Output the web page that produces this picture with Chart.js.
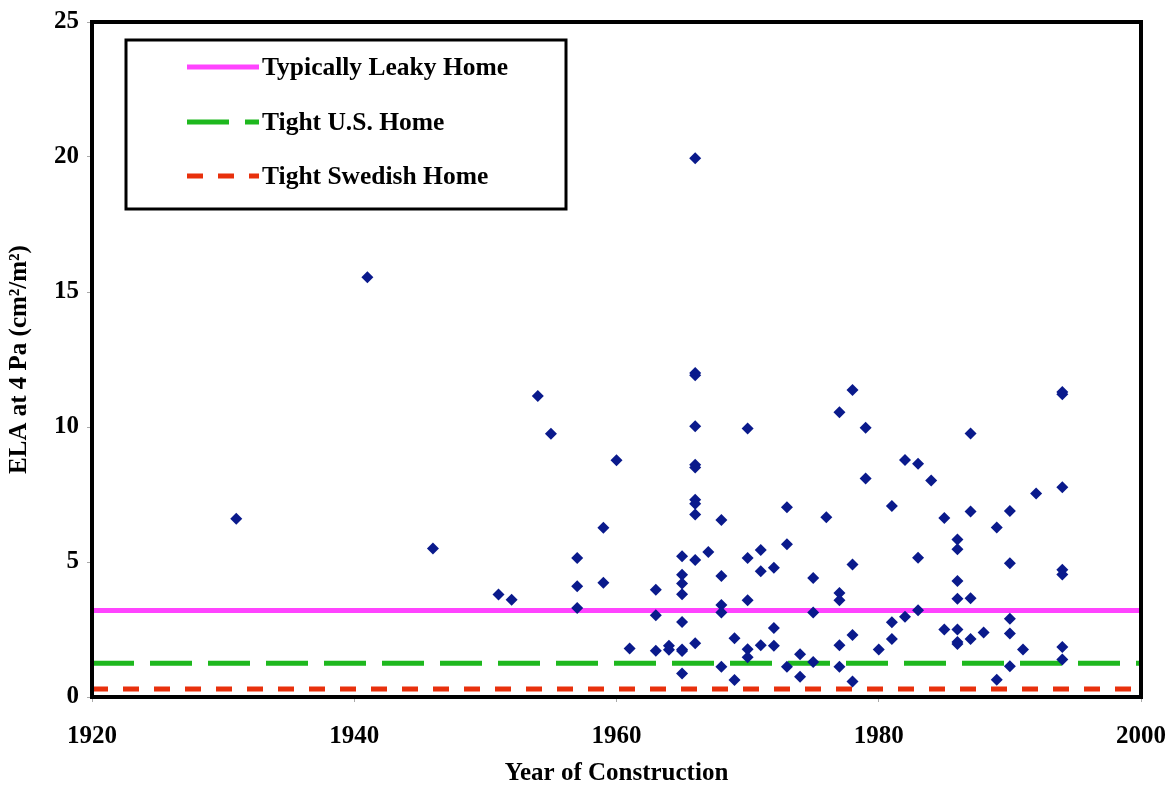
<!DOCTYPE html>
<html>
<head>
<meta charset="utf-8">
<script src="https://cdn.jsdelivr.net/npm/chart.js@4"></script>
<style>
    html, body { margin: 0; padding: 0; background: #fff; }
    #wrap { width: 1171px; height: 792px; }
</style>
</head>
<body>
<div id="wrap"><canvas id="ela-chart" width="1171" height="792"></canvas></div>
<script>
// measured homes: year of construction and ELA at 4 Pa (cm2/m2)
const years = [
    1931, 1941, 1946, 1951, 1952, 1954, 1955,
    1957, 1957, 1957, 1959, 1959, 1960, 1961,
    1963, 1963, 1963, 1964, 1964,
    1965, 1965, 1965, 1965, 1965, 1965, 1965, 1965,
    1966, 1966, 1966, 1966, 1966, 1966, 1966, 1966, 1966, 1966, 1966,
    1967, 1968, 1968, 1968, 1968, 1968, 1969, 1969,
    1970, 1970, 1970, 1970, 1970, 1971, 1971, 1971,
    1972, 1972, 1972, 1973, 1973, 1973, 1974, 1974,
    1975, 1975, 1975, 1976, 1977, 1977, 1977, 1977, 1977,
    1978, 1978, 1978, 1978, 1979, 1979, 1980,
    1981, 1981, 1981, 1982, 1982, 1983, 1983, 1983, 1984,
    1985, 1985, 1986, 1986, 1986, 1986, 1986, 1986, 1986,
    1987, 1987, 1987, 1987, 1988, 1989, 1989,
    1990, 1990, 1990, 1990, 1990, 1991, 1992,
    1994, 1994, 1994, 1994, 1994, 1994, 1994
];
const ela = [
    6.6, 15.55, 5.5, 3.8, 3.6, 11.15, 9.75,
    5.15, 4.1, 3.3, 6.27, 4.23, 8.77, 1.8,
    3.97, 3.03, 1.71, 1.9, 1.75,
    5.21, 4.53, 4.2, 3.81, 2.78, 1.76, 1.7, 0.87,
    19.95, 12.0, 11.92, 10.03, 8.6, 8.5, 7.31, 7.16, 6.76, 5.07, 1.99,
    5.37, 6.56, 4.48, 3.41, 3.13, 1.12, 2.18, 0.63,
    9.94, 5.15, 3.58, 1.77, 1.47, 5.44, 4.66, 1.92,
    4.79, 2.56, 1.9, 7.03, 5.66, 1.12, 1.58, 0.75,
    4.41, 3.13, 1.3, 6.66, 10.55, 3.85, 3.58, 1.92, 1.12,
    11.37, 4.91, 2.3, 0.57, 9.97, 8.09, 1.76,
    7.07, 2.77, 2.15, 8.78, 2.97, 8.64, 5.16, 3.21, 8.02,
    6.63, 2.5, 5.83, 5.47, 4.3, 3.64, 2.5, 2.04, 1.96,
    9.76, 6.87, 3.66, 2.15, 2.39, 6.28, 0.64,
    6.89, 4.95, 2.9, 2.35, 1.14, 1.76, 7.54,
    11.3, 11.21, 7.77, 4.71, 4.54, 1.85, 1.39
];

// reference levels
const refNames = ['Typically Leaky Home', 'Tight U.S. Home', 'Tight Swedish Home'];
const refValues = [3.2, 1.25, 0.3];
const refColors = ['#ff44ff', '#1eb81e', '#e8300c'];
const refDash = [[], [42, 16], [16, 15]];

const xRange = [1920, 2000];
const xTicks = [1920, 1940, 1960, 1980, 2000];
const yRange = [0, 25];
const yTicks = [0, 5, 10, 15, 20, 25];

const serif = "'Liberation Serif', 'Times New Roman', serif";

const points = years.map((yr, i) => ({ x: yr, y: ela[i] }));

const datasets = [{
    type: 'scatter',
    label: 'Homes',
    data: points,
    pointStyle: 'rectRot',
    pointRadius: 6,
    backgroundColor: '#0a1a8c',
    borderColor: '#0a1a8c',
    borderWidth: 0
}];

refNames.forEach((name, i) => {
    datasets.push({
        type: 'line',
        label: name,
        data: [{ x: xRange[0], y: refValues[i] }, { x: xRange[1], y: refValues[i] }],
        borderColor: refColors[i],
        borderWidth: 5,
        borderDash: refDash[i],
        pointRadius: 0,
        fill: false
    });
});

// black frame all round the plot area
const framePlugin = {
    id: 'frame',
    afterDatasetsDraw(chart) {
        const a = chart.chartArea;
        const ctx = chart.ctx;
        ctx.save();
        ctx.strokeStyle = '#000';
        ctx.lineWidth = 4;
        ctx.strokeRect(a.left, a.top, a.right - a.left, a.bottom - a.top);
        ctx.restore();
    }
};

// boxed legend inside the plot, with the dashed samples
const boxLegend = {
    id: 'boxLegend',
    afterDraw(chart) {
        const ctx = chart.ctx;
        const box = { x: 126, y: 40, w: 440, h: 169 };
        ctx.save();
        ctx.fillStyle = '#fff';
        ctx.fillRect(box.x, box.y, box.w, box.h);
        ctx.strokeStyle = '#000';
        ctx.lineWidth = 3;
        ctx.strokeRect(box.x, box.y, box.w, box.h);

        const rows = [67, 122, 176];
        chart.data.datasets.slice(1).forEach((ds, i) => {
            const y = rows[i];
            ctx.beginPath();
            ctx.setLineDash(ds.borderDash);
            ctx.strokeStyle = ds.borderColor;
            ctx.lineWidth = 5;
            ctx.moveTo(187, y);
            ctx.lineTo(259, y);
            ctx.stroke();
            ctx.setLineDash([]);
            ctx.fillStyle = '#000';
            ctx.font = 'bold 25.5px ' + serif;
            ctx.textBaseline = 'middle';
            ctx.fillText(ds.label, 262, y + 1);
        });
        ctx.restore();
    }
};

new Chart(document.getElementById('ela-chart'), {
    type: 'scatter',
    data: { datasets: datasets },
    options: {
        responsive: false,
        animation: false,
        layout: { padding: { top: 22, right: 30, left: 0, bottom: 0 } },
        plugins: {
            legend: { display: false },
            tooltip: { enabled: false }
        },
        scales: {
            x: {
                type: 'linear',
                min: xRange[0],
                max: xRange[1],
                afterBuildTicks: scale => { scale.ticks = xTicks.map(v => ({ value: v })); },
                afterFit: scale => {
                    scale.height = 95;
                    scale.paddingLeft = 0;
                    scale.paddingRight = 0;
                },
                ticks: {
                    color: '#000',
                    font: { family: serif, size: 25, weight: 'bold' },
                    padding: 20,
                    callback: v => String(v)
                },
                grid: { drawOnChartArea: false, tickLength: 5, color: '#aaa' },
                border: { display: true, color: '#000', width: 4 },
                title: {
                    display: true,
                    text: 'Year of Construction',
                    color: '#000',
                    font: { family: serif, size: 25, weight: 'bold' },
                    padding: { top: 0, bottom: 3 }
                }
            },
            y: {
                min: yRange[0],
                max: yRange[1],
                afterBuildTicks: scale => { scale.ticks = yTicks.map(v => ({ value: v })); },
                afterFit: scale => {
                    scale.width = 92;
                    scale.paddingTop = 0;
                    scale.paddingBottom = 0;
                },
                ticks: {
                    color: '#000',
                    font: { family: serif, size: 25, weight: 'bold' },
                    padding: 8,
                    callback: v => String(v)
                },
                grid: { drawOnChartArea: false, tickLength: 5, color: '#aaa' },
                border: { display: true, color: '#000', width: 4 },
                title: {
                    display: true,
                    text: 'ELA at 4 Pa (cm²/m²)',
                    color: '#000',
                    font: { family: serif, size: 25, weight: 'bold' },
                    padding: { top: 5, bottom: 0 }
                }
            }
        }
    },
    plugins: [framePlugin, boxLegend]
});
</script>
</body>
</html>
